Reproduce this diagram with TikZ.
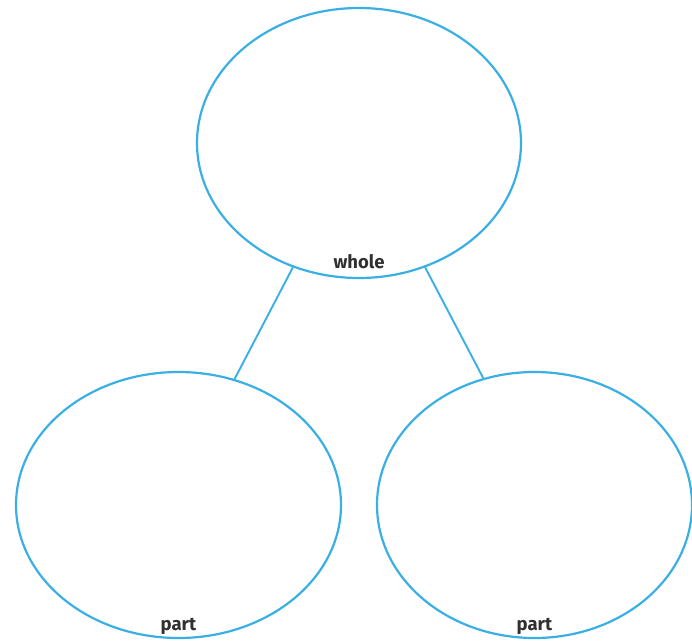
\documentclass[tikz,border=0pt]{standalone}
\usepackage{fontspec}
\usepackage{tikz}
\usetikzlibrary{shapes.geometric,positioning}
\newfontfamily\tagfont{Fira Sans}
\definecolor{bubbleblue}{HTML}{3AAFE4}
\definecolor{tagtext}{HTML}{303030}

\begin{document}
\begin{tikzpicture}[
  x=1pt, y=-1pt,
  bubble/.style={ellipse, draw=bubbleblue, line width=2.2pt, inner sep=0pt},
  tag/.style={font=\tagfont\bfseries\fontsize{18.5}{22}\selectfont, text=tagtext,
              anchor=base, inner sep=0pt},
  link/.style={draw=bubbleblue, line width=1.9pt},
]
\useasboundingbox (0,0) rectangle (692,640);

\node[bubble, minimum width=324pt, minimum height=270pt] (whole) at (359,143) {};
\node[bubble, minimum width=325pt, minimum height=266pt] (partL) at (178.5,505) {};
\node[bubble, minimum width=315pt, minimum height=266pt] (partR) at (534.5,505) {};

\node[tag] (wholetag) at ([yshift=11pt]whole.south) {whole};
\node[tag] (partLtag) at ([yshift=9pt]partL.south) {part};
\node[tag] (partRtag) at ([yshift=9pt]partR.south) {part};

\draw[link] (whole.242) -- (partL.66);
\draw[link] (whole.298) -- (partR.112);

\end{tikzpicture}
\end{document}
